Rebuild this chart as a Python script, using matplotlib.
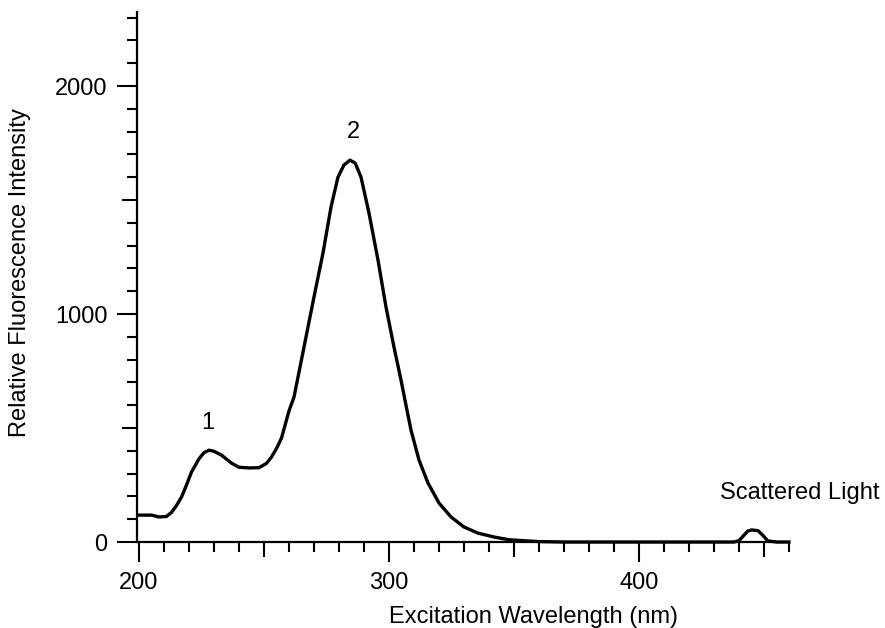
import matplotlib
matplotlib.use('Agg')
import matplotlib.pyplot as plt
from matplotlib.ticker import MultipleLocator, FuncFormatter

plt.rcParams['font.family'] = ['Liberation Sans', 'DejaVu Sans']

# Excitation spectrum
wavelength = [200, 205, 208, 211, 213, 215, 217, 219, 221, 224, 226, 228, 230,
              233, 237, 240, 244, 248, 251, 253, 255, 257, 260, 262, 264, 266,
              268, 270, 273.6, 276.8, 279.6, 282, 284.4, 286.5, 288.8, 292,
              295.6, 298.8, 302, 304.8, 306.8, 308.8, 312, 315.6, 320, 324.8,
              330, 335.6, 342, 348, 355, 360, 370, 400, 438, 440, 442, 443.5,
              445, 447.6, 449.5, 451.5, 455, 460]
intensity = [118, 118, 110, 112, 130, 160, 197, 250, 307, 365, 392, 403, 398,
             381, 346, 328, 325, 326, 345, 373, 410, 456, 575, 636, 745, 855,
             965, 1075, 1268, 1469, 1601, 1654, 1675, 1662, 1601, 1443,
             1237, 1031, 855, 711, 600, 491, 360, 259, 171, 110,
             66, 39, 22, 10, 5, 2, 0, 0, 0, 6, 30, 48,
             53, 50, 30, 5, 0, 0]

peak_labels = ['1', '2', 'Scattered Light']
peak_label_x = [227.6, 285.6, 464.4]
peak_label_y = [522, 1798, 215]

FONT_SIZE = 17


def size_mid_ticks(axis, locs, step, length):
    """Shorten the unlabelled major ticks that sit halfway between labels."""
    for tick, loc in zip(axis.get_major_ticks(), locs):
        if round(loc) % step:
            tick.tick1line.set_markersize(length)


fig = plt.figure(figsize=(8.85, 6.28), dpi=100)
ax = fig.add_axes([0.1548, 0.1369, 0.7367, 0.844])

ax.plot(wavelength, intensity, color='black', lw=2.4, clip_on=False,
        solid_joinstyle='round')

for text, x, y in zip(peak_labels, peak_label_x, peak_label_y):
    ax.text(x, y, text, ha='center', va='center', fontsize=FONT_SIZE)

ax.set_xlim(199.2, 460)
ax.set_ylim(0, 2325)

for side in ['top', 'right']:
    ax.spines[side].set_visible(False)
for side in ['left', 'bottom']:
    ax.spines[side].set_linewidth(1.6)

ax.xaxis.set_major_locator(MultipleLocator(50))
ax.xaxis.set_minor_locator(MultipleLocator(10))
ax.yaxis.set_major_locator(MultipleLocator(500))
ax.yaxis.set_minor_locator(MultipleLocator(100))

only_hundreds = FuncFormatter(lambda v, p: '' if round(v) % 100 else f'{v:.0f}')
only_thousands = FuncFormatter(lambda v, p: '' if round(v) % 1000 else f'{v:.0f}')
ax.xaxis.set_major_formatter(only_hundreds)
ax.yaxis.set_major_formatter(only_thousands)

ax.tick_params(axis='both', which='major', direction='out', length=14.4,
               width=1.5, labelsize=FONT_SIZE, color='black')
ax.tick_params(axis='both', which='minor', direction='out', length=7,
               width=1.5, color='black')
ax.tick_params(axis='x', which='major', pad=7)
ax.tick_params(axis='y', which='major', pad=7)

size_mid_ticks(ax.xaxis, ax.get_xticks(), 100, 10.8)
size_mid_ticks(ax.yaxis, ax.get_yticks(), 1000, 10.8)

ax.set_xlabel('Excitation Wavelength (nm)', fontsize=FONT_SIZE, va='top')
ax.xaxis.set_label_coords(0.608, -0.12)
ax.set_ylabel('Relative Fluorescence Intensity', fontsize=FONT_SIZE, va='bottom')
ax.yaxis.set_label_coords(-0.162, 0.508)

fig.savefig('out.png', dpi=100)
